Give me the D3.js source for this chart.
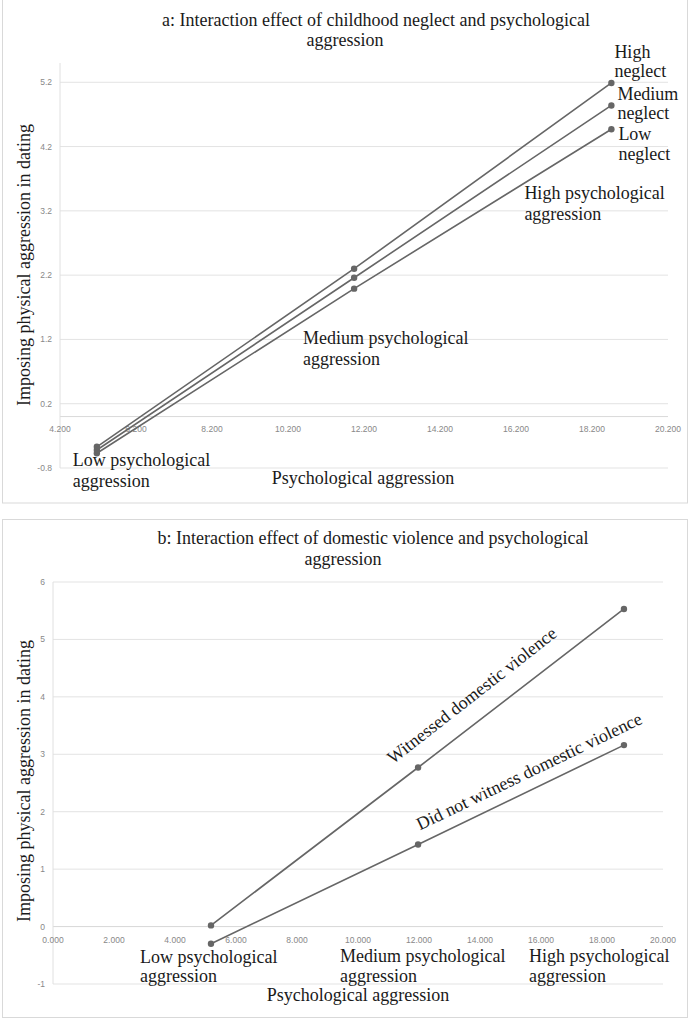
<!DOCTYPE html>
<html>
<head>
<meta charset="utf-8">
<script src="https://cdn.jsdelivr.net/npm/d3@7"></script>
<style>
  body { margin: 0; background: #fff; }
  svg { display: block; }
  .serif { font-family: "Liberation Serif", "Times New Roman", serif; fill: #1a1a1a; }
  .tick-label { font-family: "Liberation Sans", Arial, sans-serif; font-size: 8.5px; fill: #888; }
</style>
</head>
<body>
<svg id="chart" width="693" height="1020"></svg>
<script>
// ---- data ----
// panel a
const aLevels = [5.17, 11.94, 18.71];   // low / medium / high psychological aggression
const highNeglect = [-0.47, 2.30, 5.19];
const mediumNeglect = [-0.52, 2.16, 4.84];
const lowNeglect = [-0.57, 1.99, 4.47];
const aXTicks = [4.2, 6.2, 8.2, 10.2, 12.2, 14.2, 16.2, 18.2, 20.2];
const aYTicks = [-0.8, 0.2, 1.2, 2.2, 3.2, 4.2, 5.2];

// panel b
const bLevels = [5.18, 11.97, 18.72];
const witnessed = [0.02, 2.77, 5.53];
const notWitnessed = [-0.30, 1.43, 3.16];
const bXTicks = [0, 2, 4, 6, 8, 10, 12, 14, 16, 18, 20];
const bYTicks = [-1, 0, 1, 2, 3, 4, 5, 6];

const levelNames = ["Low psychological", "Medium psychological", "High psychological"];

const svg = d3.select('#chart');
const lineColor = '#666';
const gridColor = '#e3e3e3';

// excel-style numbers, plain hyphen for negatives
const loc = d3.formatLocale({decimal: '.', thousands: ',', grouping: [3], currency: ['', ''], minus: '-'});

// panel frames
svg.append('rect').attr('x', 2.5).attr('y', -1).attr('width', 685).attr('height', 504)
   .attr('fill', 'none').attr('stroke', '#d9d9d9');
svg.append('rect').attr('x', 2.5).attr('y', 519.5).attr('width', 685).attr('height', 498)
   .attr('fill', 'none').attr('stroke', '#d9d9d9');

function drawFrame(g, x, y, xTicks, yTicks, xFmt, yFmt, zeroY) {
  let [x0, x1] = x.range();
  let [y0, y1] = y.range();
  // gridlines
  g.append('g').selectAll('line').data(yTicks).enter().append('line')
    .attr('x1', x0).attr('x2', x1)
    .attr('y1', d => y(d)).attr('y2', d => y(d))
    .attr('stroke', gridColor).attr('stroke-width', 1);
  // horizontal axis line at 0
  g.append('line').attr('x1', x0).attr('x2', x1).attr('y1', y(0)).attr('y2', y(0))
    .attr('stroke', '#d9d9d9');
  // vertical axis line
  g.append('line').attr('x1', x0).attr('x2', x0).attr('y1', y1).attr('y2', y0)
    .attr('stroke', '#e0e0e0');
  // y tick labels
  g.append('g').selectAll('text').data(yTicks).enter().append('text')
    .attr('class', 'tick-label')
    .attr('x', x0 - 8).attr('y', d => y(d) + 3)
    .attr('text-anchor', 'end')
    .text(d => yFmt(d));
  // x tick labels, just under the line at 0
  g.append('g').selectAll('text').data(xTicks).enter().append('text')
    .attr('class', 'tick-label')
    .attr('x', d => x(d)).attr('y', y(0) + zeroY)
    .attr('text-anchor', 'middle')
    .text(d => xFmt(d));
}

function drawSeries(g, x, y, levels, vals) {
  let pts = levels.map((l, i) => [l, vals[i]]);
  g.append('path').datum(pts)
    .attr('d', d3.line().x(d => x(d[0])).y(d => y(d[1])))
    .attr('fill', 'none').attr('stroke', lineColor).attr('stroke-width', 1.6);
  g.append('g').selectAll('circle').data(pts).enter().append('circle')
    .attr('cx', d => x(d[0])).attr('cy', d => y(d[1])).attr('r', 3.2)
    .attr('fill', lineColor);
}

function twoLines(g, x, y, lines, size, anchor) {
  let t = g.append('text').attr('class', 'serif').style('font-size', (size || 18) + 'px')
    .attr('text-anchor', anchor || 'start');
  lines.forEach((s, i) => {
    t.append('tspan').attr('x', x).attr('y', y[i]).text(s);
  });
}

// ================= panel a =================
let xA = d3.scaleLinear().domain([4.2, 20.2]).range([60, 668]);
let yA = d3.scaleLinear().domain([-0.8, 5.5]).range([468, 63]);
let ga = svg.append('g');
drawFrame(ga, xA, yA, aXTicks, aYTicks, loc.format('.3f'), loc.format('.1f'), 15);

drawSeries(ga, xA, yA, aLevels, lowNeglect);
drawSeries(ga, xA, yA, aLevels, mediumNeglect);
drawSeries(ga, xA, yA, aLevels, highNeglect);

// title
ga.append('text').attr('class', 'serif').style('font-size', '18px').attr('text-anchor', 'middle')
  .attr('x', 376).attr('y', 26).text('a: Interaction effect of childhood neglect and psychological');
ga.append('text').attr('class', 'serif').style('font-size', '18px').attr('text-anchor', 'middle')
  .attr('x', 345).attr('y', 46).text('aggression');

// axis titles
ga.append('text').attr('class', 'serif').style('font-size', '18px').attr('text-anchor', 'middle')
  .attr('transform', 'translate(30, 265) rotate(-90)')
  .text('Imposing physical aggression in dating');
ga.append('text').attr('class', 'serif').style('font-size', '18px').attr('text-anchor', 'middle')
  .attr('x', 363).attr('y', 484).text('Psychological aggression');

// series labels at the high end
let hx = xA(aLevels[2]);
twoLines(ga, hx + 3, [yA(highNeglect[2]) - 25, yA(highNeglect[2]) - 6], ['High', 'neglect']);
twoLines(ga, hx + 6, [yA(mediumNeglect[2]) - 5, yA(mediumNeglect[2]) + 14], ['Medium', 'neglect']);
twoLines(ga, hx + 7, [yA(lowNeglect[2]) + 11, yA(lowNeglect[2]) + 31], ['Low', 'neglect']);

// level labels
twoLines(ga, xA(aLevels[0]) - 24, [466, 487], [levelNames[0], 'aggression']);
twoLines(ga, xA(aLevels[1]) - 51, [344, 365], [levelNames[1], 'aggression']);
twoLines(ga, xA(aLevels[2]) - 87, [199, 220], [levelNames[2], 'aggression']);

// ================= panel b =================
let xB = d3.scaleLinear().domain([0, 20]).range([53, 663]);
let yB = d3.scaleLinear().domain([-1, 6]).range([984, 582]);
let gb = svg.append('g');
drawFrame(gb, xB, yB, bXTicks, bYTicks, loc.format('.3f'), loc.format('d'), 16);

drawSeries(gb, xB, yB, bLevels, notWitnessed);
drawSeries(gb, xB, yB, bLevels, witnessed);

gb.append('text').attr('class', 'serif').style('font-size', '18px').attr('text-anchor', 'middle')
  .attr('x', 373).attr('y', 544).text('b: Interaction effect of domestic violence and psychological');
gb.append('text').attr('class', 'serif').style('font-size', '18px').attr('text-anchor', 'middle')
  .attr('x', 343).attr('y', 565).text('aggression');

gb.append('text').attr('class', 'serif').style('font-size', '18px').attr('text-anchor', 'middle')
  .attr('transform', 'translate(30, 781) rotate(-90)')
  .text('Imposing physical aggression in dating');
gb.append('text').attr('class', 'serif').style('font-size', '18px').attr('text-anchor', 'middle')
  .attr('x', 358).attr('y', 1001).text('Psychological aggression');

// labels along the lines
let mx = xB(bLevels[1]);
gb.append('text').attr('class', 'serif').style('font-size', '18px')
  .attr('transform', `translate(${mx - 25}, ${yB(witnessed[1]) - 3}) rotate(-38)`)
  .text('Witnessed domestic violence');
gb.append('text').attr('class', 'serif').style('font-size', '18px')
  .attr('transform', `translate(${mx + 2}, ${yB(notWitnessed[1]) - 14}) rotate(-25.7)`)
  .text('Did not witness domestic violence');

twoLines(gb, xB(bLevels[0]) - 71, [963, 982], [levelNames[0], 'aggression']);
twoLines(gb, xB(bLevels[1]) - 78, [962, 982], [levelNames[1], 'aggression']);
twoLines(gb, xB(bLevels[2]) - 95, [962, 982], [levelNames[2], 'aggression']);
</script>
</body>
</html>
